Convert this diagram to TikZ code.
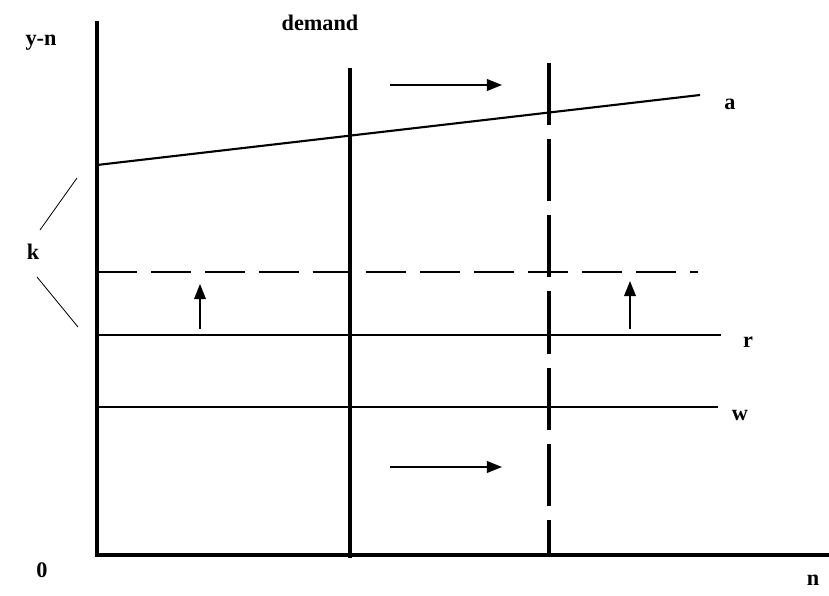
\documentclass[tikz,border=0pt]{standalone}
\usepackage{fontspec}
\setmainfont{Liberation Serif}
\usetikzlibrary{arrows.meta}

\begin{document}
\begin{tikzpicture}[x=0.03cm, y=-0.03cm,
  lbl/.style={font=\bfseries\fontsize{19}{21}\selectfont, inner sep=0pt},
  axis/.style={line width=3.8pt},
  curve/.style={line width=1.8pt},
  newdemand/.style={line width=3.4pt, dash pattern=on 53pt off 12pt},
  newcost/.style={line width=2.4pt, dash pattern=on 34pt off 12pt},
  arr/.style={-{Triangle[length=13pt, width=10pt]}, line width=1.6pt},
  brace/.style={line width=0.7pt}
]
\useasboundingbox (0,0) rectangle (829,596);

% axes
\coordinate (O) at (97,555);
\coordinate (ytop) at (97,21);
\coordinate (xend) at (829,555);
\draw[axis] (ytop) -- (O) -- (xend);
\node[lbl] (yn) at (41,43) {y-n};
\node[lbl] (zero) at (42,570) {0};
\node[lbl] (nx) at (813,580) {n};

% demand lines
\coordinate (d1top) at (350,68);
\coordinate (d1bot) at (350,558);
\coordinate (d2top) at (549,63);
\coordinate (d2bot) at (549,557);
\draw[line width=3.4pt] (d1top) -- (d1bot);
\draw[newdemand] (d2top) -- (d2bot);
\node[lbl] (demand) at (320,23) {demand};

% line a
\coordinate (a0) at (97,165);
\coordinate (a1) at (700,95);
\draw[curve] (a0) -- (a1);
\node[lbl] (alab) at (730,104) {a};

% horizontal lines
\coordinate (k0) at (97,272);
\coordinate (k1) at (698,272);
\draw[newcost] (k0) -- (k1);
\coordinate (r0) at (97,335);
\coordinate (r1) at (721,335);
\draw[curve] (r0) -- (r1);
\node[lbl] (rlab) at (748,342) {r};
\coordinate (w0) at (97,407);
\coordinate (w1) at (718,407);
\draw[curve] (w0) -- (w1);
\node[lbl] (wlab) at (740,415) {w};

% shift arrows
\coordinate (ta0) at (390,85);
\coordinate (ta1) at (502,85);
\draw[arr] (ta0) -- (ta1);
\coordinate (ba0) at (390,467);
\coordinate (ba1) at (502,467);
\draw[arr] (ba0) -- (ba1);
\coordinate (ua0) at (200,329);
\coordinate (ua1) at (200,284);
\draw[arr] (ua0) -- (ua1);
\coordinate (ub0) at (630,329);
\coordinate (ub1) at (630,281);
\draw[arr] (ub0) -- (ub1);

% k bracket
\node[lbl] (klab) at (33,252) {k};
\coordinate (kt0) at (40,230);
\coordinate (kt1) at (77,178);
\coordinate (kb0) at (37,277);
\coordinate (kb1) at (78,327);
\draw[brace] (kt0) -- (kt1);
\draw[brace] (kb0) -- (kb1);

\end{tikzpicture}
\end{document}
